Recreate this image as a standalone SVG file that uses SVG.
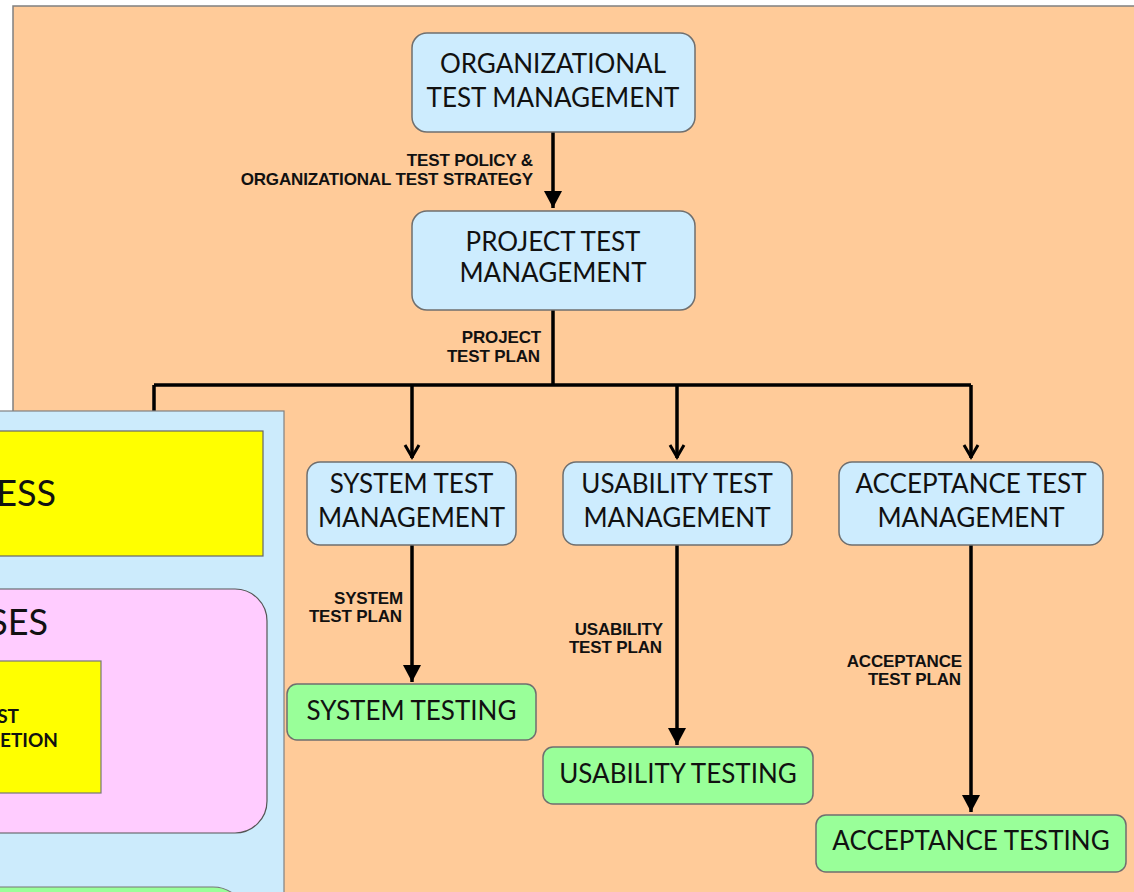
<svg xmlns="http://www.w3.org/2000/svg" width="1134" height="892" viewBox="0 0 1134 892">
<defs>
<style>
.node{fill:#CDECFE;stroke:#6f6f6f;stroke-width:1.5}
.test{fill:#99FF99;stroke:#6f6f6f;stroke-width:1.5}
.nt{font-family:Lato,"Open Sans",sans-serif;font-size:26px;fill:#111;text-anchor:middle}
.lbl{font-family:"Liberation Sans",Arial,sans-serif;font-weight:bold;font-size:17px;letter-spacing:-0.15px;fill:#111;text-anchor:end}
.wire{fill:none;stroke:#000;stroke-width:3.5}
.big{font-family:Lato,"Open Sans",sans-serif;font-size:36px;fill:#111;text-anchor:end}
</style>
<marker id="tri" markerUnits="userSpaceOnUse" markerWidth="20" markerHeight="20" viewBox="0 0 20 20" refX="17" refY="9" orient="auto">
<path d="M0,0 L17,9 L0,18 Z" fill="#000"/>
</marker>
<marker id="chev" markerUnits="userSpaceOnUse" markerWidth="20" markerHeight="20" viewBox="0 0 20 20" refX="16" refY="10" orient="auto">
<path d="M3,3 L15,10 L3,17" fill="none" stroke="#000" stroke-width="3"/>
</marker>
</defs>
<rect width="1134" height="892" fill="#fff"/>
<rect id="bg-panel" x="13" y="6" width="1130" height="900" fill="#FFCB99" stroke="#808080" stroke-width="1.5"/>

<g id="connectors">
<path class="wire" d="M553,132 V208" marker-end="url(#tri)"/>
<path class="wire" d="M553,310 V385 M154,385 H971 M154,385 V412"/>
<path class="wire" d="M412,385 V458" marker-end="url(#chev)"/>
<path class="wire" d="M677,385 V458" marker-end="url(#chev)"/>
<path class="wire" d="M971,385 V458" marker-end="url(#chev)"/>
<path class="wire" d="M412,545 V682" marker-end="url(#tri)"/>
<path class="wire" d="M677,545 V745" marker-end="url(#tri)"/>
<path class="wire" d="M971,545 V812" marker-end="url(#tri)"/>
<text class="lbl" x="533" y="166">TEST POLICY &amp;</text>
<text class="lbl" x="533" y="185">ORGANIZATIONAL TEST STRATEGY</text>
<text class="lbl" x="541" y="343">PROJECT</text>
<text class="lbl" x="540" y="362">TEST PLAN</text>
<text class="lbl" x="403" y="604">SYSTEM</text>
<text class="lbl" x="402" y="622">TEST PLAN</text>
<text class="lbl" x="663" y="635">USABILITY</text>
<text class="lbl" x="662" y="653">TEST PLAN</text>
<text class="lbl" x="962" y="667">ACCEPTANCE</text>
<text class="lbl" x="961" y="685">TEST PLAN</text>
</g>

<g id="org">
<rect class="node" x="412" y="33" width="283" height="99" rx="15"/>
<text class="nt" x="553" y="73">ORGANIZATIONAL</text>
<text class="nt" x="553" y="107">TEST MANAGEMENT</text>
</g>
<g id="project">
<rect class="node" x="412" y="211" width="283" height="99" rx="15"/>
<text class="nt" x="553" y="251">PROJECT TEST</text>
<text class="nt" x="553" y="282">MANAGEMENT</text>
</g>
<g id="system-mgmt">
<rect class="node" x="307" y="462" width="209" height="83" rx="13"/>
<text class="nt" x="411.5" y="493">SYSTEM TEST</text>
<text class="nt" x="411.5" y="527">MANAGEMENT</text>
</g>
<g id="usability-mgmt">
<rect class="node" x="563" y="462" width="229" height="83" rx="13"/>
<text class="nt" x="677" y="493">USABILITY TEST</text>
<text class="nt" x="677" y="527">MANAGEMENT</text>
</g>
<g id="acceptance-mgmt">
<rect class="node" x="839" y="462" width="264" height="83" rx="13"/>
<text class="nt" x="971" y="493">ACCEPTANCE TEST</text>
<text class="nt" x="971" y="527">MANAGEMENT</text>
</g>
<g id="system-testing">
<rect class="test" x="287" y="684" width="249" height="56" rx="10"/>
<text class="nt" x="411.5" y="720">SYSTEM TESTING</text>
</g>
<g id="usability-testing">
<rect class="test" x="543" y="747" width="270" height="57" rx="10"/>
<text class="nt" x="678" y="783">USABILITY TESTING</text>
</g>
<g id="acceptance-testing">
<rect class="test" x="816" y="815" width="310" height="57" rx="10"/>
<text class="nt" x="971" y="850">ACCEPTANCE TESTING</text>
</g>

<g id="left-panel">
<rect x="-10" y="411" width="294" height="500" fill="#CCEBFC" stroke="#808080" stroke-width="1.2"/>
<rect x="-10" y="431" width="273" height="125" fill="#FFFF00" stroke="#666" stroke-width="1.2"/>
<text class="big" x="56" y="506">ESS</text>
<rect x="-40" y="589" width="307" height="244" rx="32" fill="#FFCCFF" stroke="#555" stroke-width="1.2"/>
<text class="big" x="48" y="635">SES</text>
<rect x="-10" y="661" width="111" height="132" fill="#FFFF00" stroke="#777" stroke-width="1.2"/>
<text x="19" y="723" font-family="Lato,'Open Sans',sans-serif" font-weight="bold" font-size="19" fill="#111" text-anchor="end">ST</text>
<text x="58" y="747" font-family="Lato,'Open Sans',sans-serif" font-weight="bold" font-size="19" fill="#111" text-anchor="end">ETION</text>
<rect x="-40" y="887" width="285" height="60" rx="32" fill="#99FF99" stroke="#777" stroke-width="1.2"/>
</g>
</svg>
